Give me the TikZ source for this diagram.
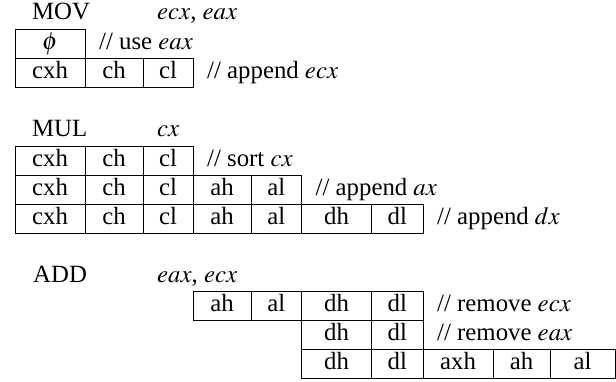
\documentclass[tikz,border=0pt]{standalone}
\usepackage{mathptmx}
\usepackage{fontspec}
\setmainfont{Liberation Serif}
\begin{document}
\begin{tikzpicture}[x=1pt,y=-1pt,
  font=\fontsize{24.8}{29.3}\selectfont,
  cell/.style={draw, line width=0.8pt, minimum width=#1, minimum height=29pt,
    inner sep=0pt, outer sep=0pt, text height=20.3pt, text depth=8.7pt, anchor=north west},
  note/.style={anchor=base west, inner sep=0pt, xshift=14pt},
  head/.style={anchor=base west, inner sep=0pt}]
\useasboundingbox (0,0) rectangle (616,381);

% ---------- MOV ----------
\node[head] (mov) at (32,19) {MOV};
\node[head] (movargs) at (157,19) {$ecx$, $eax$};
\node[cell=70pt] (a1) at (15,29) {$\phi$};
\node[note] (na) at (a1.base east) {// use $eax$};
\node[cell=70pt] (b1) at (15,58) {cxh};
\node[cell=58pt] (b2) at (85,58) {ch};
\node[cell=50pt] (b3) at (143,58) {cl};
\node[note] (nb) at (b3.base east) {// append $ecx$};

% ---------- MUL ----------
\node[head] (mul) at (32,136.5) {MUL};
\node[head] (mulargs) at (157,136.5) {$cx$};
\node[cell=70pt] (c1) at (15,146) {cxh};
\node[cell=58pt] (c2) at (85,146) {ch};
\node[cell=50pt] (c3) at (143,146) {cl};
\node[note] (nc) at (c3.base east) {// sort $cx$};

\node[cell=70pt] (d1) at (15,175) {cxh};
\node[cell=58pt] (d2) at (85,175) {ch};
\node[cell=50pt] (d3) at (143,175) {cl};
\node[cell=58pt] (d4) at (193,175) {ah};
\node[cell=50.5pt] (d5) at (251,175) {al};
\node[note] (nd) at (d5.base east) {// append $ax$};

\node[cell=70pt] (e1) at (15,204) {cxh};
\node[cell=58pt] (e2) at (85,204) {ch};
\node[cell=50pt] (e3) at (143,204) {cl};
\node[cell=58pt] (e4) at (193,204) {ah};
\node[cell=50.5pt] (e5) at (251,204) {al};
\node[cell=70pt] (e6) at (301.5,204) {dh};
\node[cell=51.5pt] (e7) at (371.5,204) {dl};
\node[note] (ne) at (e7.base east) {// append $dx$};

% ---------- ADD ----------
\node[head] (add) at (33,282) {ADD};
\node[head] (addargs) at (157,282) {$eax$, $ecx$};
\node[cell=58pt] (f1) at (193,291.5) {ah};
\node[cell=50.5pt] (f2) at (251,291.5) {al};
\node[cell=70pt] (f3) at (301.5,291.5) {dh};
\node[cell=51.5pt] (f4) at (371.5,291.5) {dl};
\node[note] (nf) at (f4.base east) {// remove $ecx$};

\node[cell=70pt] (g1) at (301.5,320.5) {dh};
\node[cell=51.5pt] (g2) at (371.5,320.5) {dl};
\node[note] (ng) at (g2.base east) {// remove $eax$};

\node[cell=70pt] (h1) at (301.5,349.5) {dh};
\node[cell=51.5pt] (h2) at (371.5,349.5) {dl};
\node[cell=70pt] (h3) at (423,349.5) {axh};
\node[cell=57pt] (h4) at (493,349.5) {ah};
\node[cell=65pt] (h5) at (550,349.5) {al};
\end{tikzpicture}
\end{document}
